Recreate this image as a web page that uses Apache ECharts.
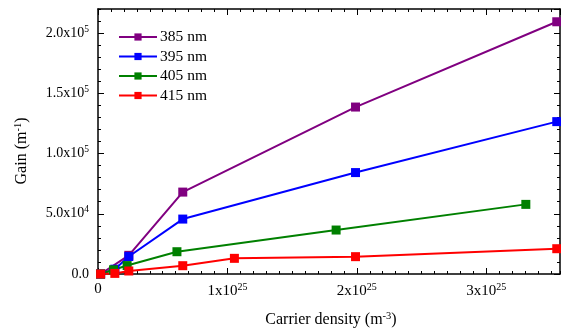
<!DOCTYPE html>
<html>
<head>
<meta charset="utf-8">
<script src="https://cdn.jsdelivr.net/npm/echarts@6/dist/echarts.min.js"></script>
<style>html,body{margin:0;padding:0;background:#fff}#c{width:561px;height:330px}</style>
</head>
<body>
<div id="c"></div>
<script>
// Data (x in units of 1e25 m^-3, y in m^-1)
const names = ['385 nm', '395 nm', '405 nm', '415 nm'];
const colors = ['#800080', '#0000FF', '#008000', '#FF0000'];
const x385 = [0.02, 0.238, 0.655, 1.99, 3.545];
const y385 = [0, 15500, 68000, 138600, 209400];
const x395 = [0.02, 0.13, 0.238, 0.655, 1.99, 3.545];
const y395 = [0, 4000, 14500, 45600, 84200, 126500];
const x405 = [0.02, 0.12, 0.225, 0.61, 1.84, 3.306];
const y405 = [0, 3500, 7000, 18500, 36500, 57800];
const x415 = [0.02, 0.13, 0.238, 0.655, 1.054, 1.99, 3.545];
const y415 = [0, 500, 2500, 6900, 13000, 14400, 21000];
const xTickLabels = ['0', '1x10^25', '2x10^25', '3x10^25'];
const yTickLabels = ['0.0', '5.0x10^4', '1.0x10^5', '1.5x10^5', '2.0x10^5'];

const X = [x385, x395, x405, x415];
const Y = [y385, y395, y405, y415];

const FONT = 'Liberation Serif';
function mkRich(n, s, raise) {
  return {
    n: {fontFamily: FONT, fontSize: n, color: '#000'},
    s: {fontFamily: FONT, fontSize: s, color: '#000', padding: [0, 0, raise, 0]}
  };
}
const richX = mkRich(15, 10, 8);
const richY = mkRich(14, 9.5, 8);
const richT = mkRich(16, 10.5, 8);
const XMIN = 0, XMAX = 3.57, YMIN = 0, YMAX = 220000;

function toRich(lbl) {
  const p = lbl.split('^');
  return p.length > 1 ? '{n|' + p[0] + '}{s|' + p[1] + '}' : '{n|' + p[0] + '}';
}
function xFmt(v) {
  const k = Math.round(v);
  if (Math.abs(v - k) > 1e-6 || k >= xTickLabels.length) return '';
  return toRich(xTickLabels[k]);
}
function yFmt(v) {
  const k = Math.round(v / 50000);
  if (Math.abs(v - k * 50000) > 1e-3 || k >= yTickLabels.length) return '';
  return toRich(yTickLabels[k]);
}

const axisLine = {show: true, onZero: false, lineStyle: {color: '#000', width: 1.5}};
const noLine = {show: false, onZero: false};
function xAxisDef(grid, pos, major, labels) {
  return {
    type: 'value', gridIndex: grid, position: pos, min: XMIN, max: XMAX,
    interval: major ? 1 : 0.1,
    axisLine: major ? axisLine : noLine,
    axisTick: {show: true, inside: true, length: major ? 6 : 3, lineStyle: {color: '#000', width: 1}},
    axisLabel: labels ? {show: true, formatter: xFmt, rich: richX, margin: 8, showMaxLabel: false} : {show: false},
    splitLine: {show: false}
  };
}
function yAxisDef(grid, pos, major, labels) {
  return {
    type: 'value', gridIndex: grid, position: pos, min: YMIN, max: YMAX,
    interval: major ? 50000 : 10000,
    axisLine: major ? axisLine : noLine,
    axisTick: {show: true, inside: true, length: major ? 6 : 3, lineStyle: {color: '#000', width: 1}},
    axisLabel: labels ? {show: true, formatter: yFmt, rich: richY, margin: 9, showMaxLabel: false} : {show: false},
    splitLine: {show: false}
  };
}

const series = names.map((nm, i) => ({
  name: nm, type: 'line',
  xAxisIndex: 0, yAxisIndex: 0,
  data: X[i].map((x, j) => [x, Y[i][j]]),
  symbol: 'rect', symbolSize: 9,
  clip: false,
  itemStyle: {color: colors[i]},
  lineStyle: {color: colors[i], width: 2}
}));

const gridRect = {left: 98, right: 1, top: 9, bottom: 56, containLabel: false};
const chart = echarts.init(document.getElementById('c'), null, {renderer: 'canvas'});
chart.setOption({
  animation: false,
  backgroundColor: '#fff',
  grid: [Object.assign({}, gridRect), Object.assign({}, gridRect)],
  xAxis: [xAxisDef(0, 'bottom', true, true), xAxisDef(0, 'top', true, false),
          xAxisDef(1, 'bottom', false, false), xAxisDef(1, 'top', false, false)],
  yAxis: [yAxisDef(0, 'left', true, true), yAxisDef(0, 'right', true, false),
          yAxisDef(1, 'left', false, false), yAxisDef(1, 'right', false, false)],
  legend: {
    orient: 'vertical', left: 113, top: 24,
    itemWidth: 38, itemHeight: 9, itemGap: 3.5,
    textStyle: {fontFamily: FONT, fontSize: 15.5, color: '#000', padding: [0, 0, 0, -2]},
    data: names
  },
  graphic: [
    {type: 'text', x: 22, y: 151, rotation: Math.PI / 2,
     style: {text: '{n|Gain (m}{s|-1}{n|)}', rich: richT, align: 'center', verticalAlign: 'middle'}},
    {type: 'text', x: 331, y: 320,
     style: {text: '{n|Carrier density (m}{s|-3}{n|)}', rich: richT, align: 'center', verticalAlign: 'middle'}}
  ],
  series: series
});
</script>
</body>
</html>
